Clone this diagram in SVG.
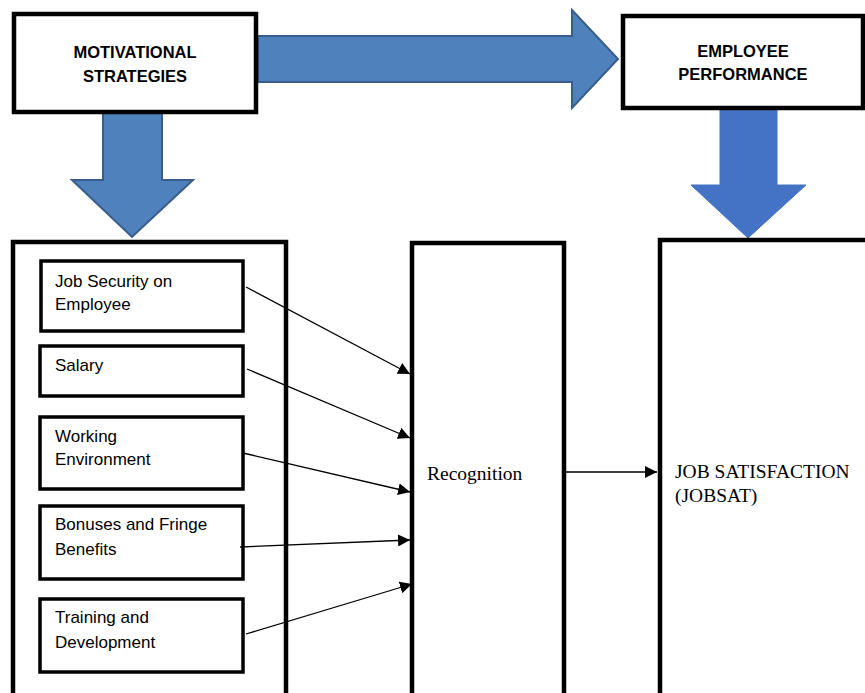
<svg xmlns="http://www.w3.org/2000/svg" width="865" height="693" viewBox="0 0 865 693">
<defs>
<style>
.box{fill:#fff;stroke:#000;stroke-width:4.5}
.inner{fill:#fff;stroke:#000;stroke-width:3.5}
.hdr{font-family:"Liberation Sans",Arial,sans-serif;font-weight:bold;font-size:16.5px;fill:#000;text-anchor:middle}
.lbl{font-family:"Liberation Sans",Arial,sans-serif;font-size:17px;fill:#000}
.ser{font-family:"Liberation Serif","Times New Roman",serif;font-size:19.5px;fill:#000}
.blk{fill:#4F81BD;stroke:#385D8A;stroke-width:2}
.blk2{fill:#4472C4;stroke:#4472C4;stroke-width:1}
.con{stroke:#000;stroke-width:1.3;fill:none;marker-end:url(#ah)}
</style>
<marker id="ah" markerUnits="userSpaceOnUse" markerWidth="12" markerHeight="12" viewBox="0 0 12 12" refX="12" refY="6" orient="auto">
<path d="M0,0 L12,6 L0,12 z" fill="#000"/>
</marker>
</defs>
<rect width="865" height="693" fill="#fff"/>
<g id="big-arrows">
<path class="blk" d="M258,36 L572,36 L572,10 L618,59 L572,108 L572,82 L258,82 z"/>
<path class="blk" d="M103,113 L162,113 L162,180 L193,180 L132,237 L72,180 L103,180 z"/>
<path class="blk2" d="M720,108 L777,108 L777,185 L806,185 L748,238 L691,185 L720,185 z"/>
</g>
<g id="motivational">
<rect class="box" x="14" y="14" width="242" height="98"/>
<text class="hdr" x="135" y="58" font-size="18">MOTIVATIONAL</text>
<text class="hdr" x="135" y="82" font-size="18">STRATEGIES</text>
</g>
<g id="performance">
<rect class="box" x="623" y="16" width="240" height="92"/>
<text class="hdr" x="743" y="57">EMPLOYEE</text>
<text class="hdr" x="743" y="80">PERFORMANCE</text>
</g>
<g id="strategies">
<rect class="box" x="13" y="242" width="273" height="500"/>
</g>
<g id="job-security">
<rect class="inner" x="41" y="261" width="202" height="70"/>
<text class="lbl" x="55" y="287">Job Security on</text>
<text class="lbl" x="55" y="310">Employee</text>
</g>
<g id="salary">
<rect class="inner" x="40" y="346" width="203" height="50"/>
<text class="lbl" x="55" y="371">Salary</text>
</g>
<g id="working-environment">
<rect class="inner" x="40" y="417" width="203" height="72"/>
<text class="lbl" x="55" y="442">Working</text>
<text class="lbl" x="55" y="465">Environment</text>
</g>
<g id="bonuses">
<rect class="inner" x="40" y="506" width="203" height="73"/>
<text class="lbl" x="55" y="530">Bonuses and Fringe</text>
<text class="lbl" x="55" y="555">Benefits</text>
</g>
<g id="training">
<rect class="inner" x="40" y="599" width="203" height="73"/>
<text class="lbl" x="55" y="623">Training and</text>
<text class="lbl" x="55" y="648">Development</text>
</g>
<g id="recognition">
<rect class="box" x="412" y="243" width="152" height="500"/>
<text class="ser" x="427" y="480">Recognition</text>
</g>
<g id="jobsat">
<rect class="box" x="660" y="240" width="260" height="500"/>
<text class="ser" x="675" y="478">JOB SATISFACTION</text>
<text class="ser" x="675" y="502">(JOBSAT)</text>
</g>
<g id="connectors">
<line class="con" x1="246" y1="287" x2="410" y2="374"/>
<line class="con" x1="247" y1="369" x2="410" y2="438"/>
<line class="con" x1="243" y1="453" x2="410" y2="492"/>
<line class="con" x1="240" y1="547" x2="410" y2="540"/>
<line class="con" x1="246" y1="634" x2="412" y2="584"/>
<line class="con" x1="562" y1="472" x2="657" y2="472"/>
</g>
</svg>
